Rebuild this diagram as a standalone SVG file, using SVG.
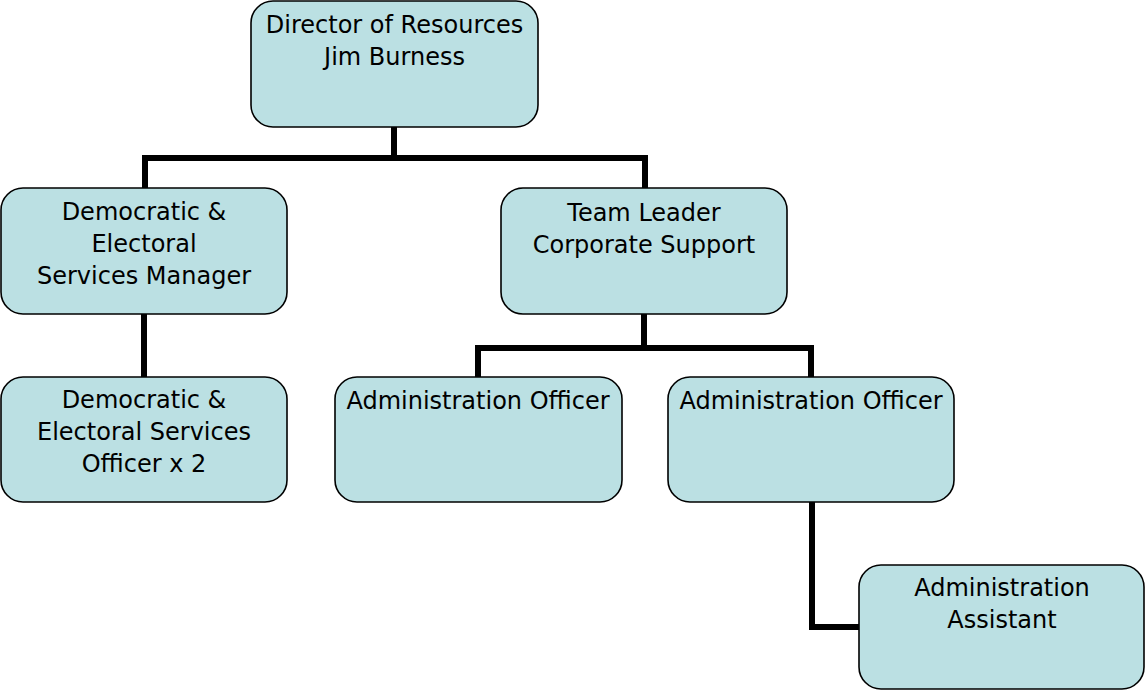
<svg xmlns="http://www.w3.org/2000/svg" width="1146" height="691" viewBox="0 0 1146 691">
<style>
.box{fill:#BBE0E3;stroke:#000;stroke-width:1.6}
.lbl{font-family:"DejaVu Sans",sans-serif;font-size:24px;fill:#000;text-anchor:middle}
.conn{fill:none;stroke:#000;stroke-width:6;stroke-linejoin:miter;stroke-linecap:butt}
</style>
<rect width="1146" height="691" fill="#fff"/>
<g id="connectors">
<path class="conn" d="M394,127 V158 M145,188 V158 H645 V188"/>
<path class="conn" d="M144,314 V377"/>
<path class="conn" d="M644,314 V348 M478,377 V348 H811 V377"/>
<path class="conn" d="M812,502 V627 H859"/>
</g>
<g id="director">
<rect class="box" x="251" y="1" width="287" height="126" rx="22"/>
<text class="lbl" x="394.5" y="33">Director of Resources</text>
<text class="lbl" x="394.5" y="65">Jim Burness</text>
</g>
<g id="dem-manager">
<rect class="box" x="1" y="188" width="286" height="126" rx="22"/>
<text class="lbl" x="144" y="220">Democratic &amp;</text>
<text class="lbl" x="144" y="252">Electoral</text>
<text class="lbl" x="144" y="284">Services Manager</text>
</g>
<g id="team-leader">
<rect class="box" x="501" y="188" width="286" height="126" rx="22"/>
<text class="lbl" x="644" y="221">Team Leader</text>
<text class="lbl" x="644" y="253">Corporate Support</text>
</g>
<g id="dem-officer">
<rect class="box" x="1" y="377" width="286" height="125" rx="22"/>
<text class="lbl" x="144" y="408">Democratic &amp;</text>
<text class="lbl" x="144" y="440">Electoral Services</text>
<text class="lbl" x="144" y="472">Officer x 2</text>
</g>
<g id="admin-officer-1">
<rect class="box" x="335" y="377" width="287" height="125" rx="22"/>
<text class="lbl" x="478" y="409">Administration Officer</text>
</g>
<g id="admin-officer-2">
<rect class="box" x="668" y="377" width="286" height="125" rx="22"/>
<text class="lbl" x="811" y="409">Administration Officer</text>
</g>
<g id="admin-assistant">
<rect class="box" x="859" y="565" width="285" height="124" rx="22"/>
<text class="lbl" x="1002" y="596">Administration</text>
<text class="lbl" x="1002" y="628">Assistant</text>
</g>
</svg>
